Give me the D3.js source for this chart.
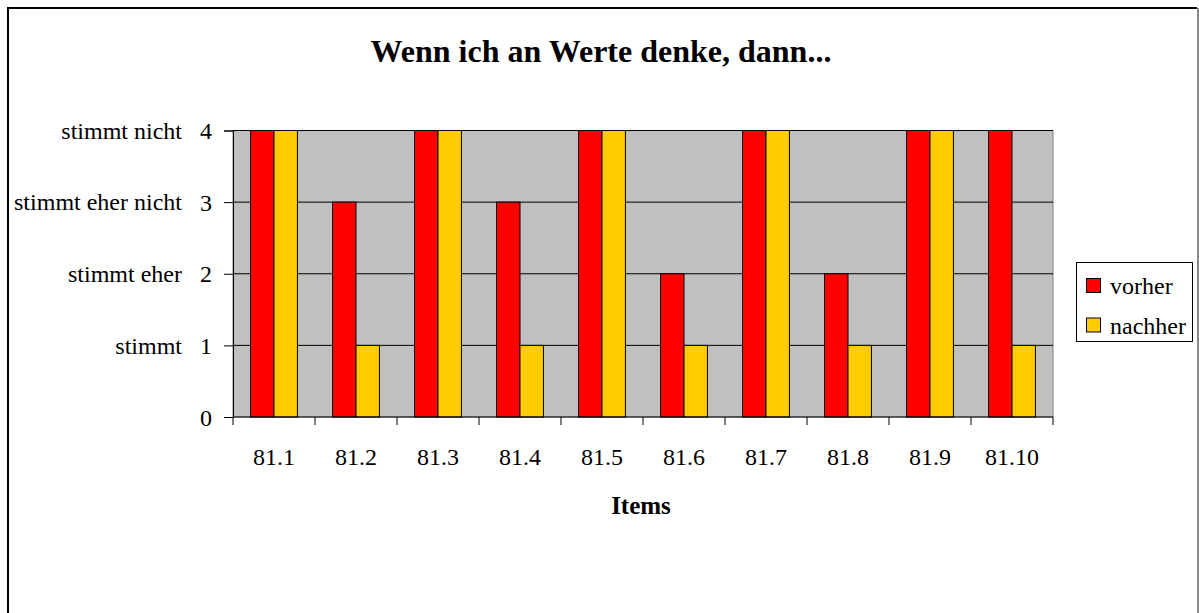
<!DOCTYPE html>
<html>
<head>
<meta charset="utf-8">
<script src="https://cdn.jsdelivr.net/npm/d3@7"></script>
<style>
  body { margin: 0; background: #fff; }
  text { font-family: "Liberation Serif", "Times New Roman", serif; fill: #000; }
</style>
</head>
<body>
<svg id="chart"></svg>
<script>
const categories = ["81.1", "81.2", "81.3", "81.4", "81.5", "81.6", "81.7", "81.8", "81.9", "81.10"];
const seriesNames = ["vorher", "nachher"];
const vorher = [4, 3, 4, 3, 4, 2, 4, 2, 4, 4];
const nachher = [4, 1, 4, 1, 4, 1, 4, 1, 4, 1];
const yTicks = [0, 1, 2, 3, 4];
const yTickText = ["", "stimmt", "stimmt eher", "stimmt eher nicht", "stimmt nicht"];
const colors = ["#ff0000", "#ffcc00"];

const width = 1199;
const height = 613;
const plot = { left: 233, right: 1053, top: 130.5, bottom: 417 };

const svg = d3.select("#chart").attr("width", width).attr("height", height);

// outer frame (left/top dark, right edge grey like the original)
svg.append("path")
  .attr("d", "M8,640V8H1197")
  .attr("fill", "none").attr("stroke", "#000").attr("stroke-width", 2);
svg.append("line")
  .attr("x1", 1198).attr("x2", 1198).attr("y1", 8).attr("y2", 640)
  .attr("stroke", "#888").attr("stroke-width", 2);

const x0 = d3.scaleBand().domain(categories).range([plot.left, plot.right]);
const x1 = d3.scaleBand().domain(seriesNames).range([0, x0.bandwidth()]).paddingOuter(0.75);
const y = d3.scaleLinear().domain([0, 4]).range([plot.bottom, plot.top]);

// plot area
svg.append("rect")
  .attr("x", plot.left).attr("y", plot.top)
  .attr("width", plot.right - plot.left).attr("height", plot.bottom - plot.top)
  .attr("fill", "#c0c0c0").attr("stroke", "#808080").attr("stroke-width", 1);

// gridlines
svg.append("g")
  .selectAll("line")
  .data(yTicks.slice(1))
  .join("line")
  .attr("x1", plot.left).attr("x2", plot.right)
  .attr("y1", d => y(d)).attr("y2", d => y(d))
  .attr("stroke", "#000").attr("stroke-width", 1);

// bars
const rows = categories.map((c, i) => ({ cat: c, vals: [vorher[i], nachher[i]] }));
svg.append("g")
  .selectAll("g")
  .data(rows)
  .join("g")
  .attr("transform", d => `translate(${x0(d.cat)},0)`)
  .selectAll("rect")
  .data(d => d.vals.map((v, j) => ({ key: seriesNames[j], v, j })))
  .join("rect")
  .attr("x", d => x1(d.key))
  .attr("y", d => y(d.v))
  .attr("width", x1.bandwidth())
  .attr("height", d => plot.bottom - y(d.v))
  .attr("fill", d => colors[d.j])
  .attr("stroke", "#000").attr("stroke-width", 1);

// y axis
const yAxis = svg.append("g")
  .attr("transform", `translate(${plot.left},0)`)
  .call(d3.axisLeft(y).tickValues(yTicks).tickSize(9).tickFormat(d3.format("d")));
yAxis.attr("font-family", null);
yAxis.select(".domain").attr("stroke", "#000");
yAxis.selectAll(".tick line").attr("stroke", "#000");
yAxis.selectAll(".tick text")
  .attr("x", -21).attr("dy", "0.34em")
  .style("font-size", "24px").style("font-family", "Liberation Serif");

svg.append("g")
  .selectAll("text")
  .data(yTicks)
  .join("text")
  .attr("x", 182)
  .attr("y", d => y(d))
  .attr("dy", "0.34em")
  .attr("text-anchor", "end")
  .style("font-size", "24px")
  .text(d => yTickText[d]);

// x axis
const xAxis = svg.append("g")
  .attr("transform", `translate(0,${plot.bottom})`)
  .call(d3.axisBottom(x0).tickSize(0).tickPadding(0));
xAxis.attr("font-family", null);
xAxis.select(".domain").remove();
xAxis.append("line")
  .attr("x1", plot.left).attr("x2", plot.right)
  .attr("stroke", "#000").attr("stroke-width", 1);
xAxis.selectAll(".tick text")
  .attr("y", 48).attr("dy", 0)
  .style("font-size", "24px").style("font-family", "Liberation Serif");
xAxis.selectAll(".sep")
  .data(d3.range(categories.length + 1))
  .join("line")
  .attr("class", "sep")
  .attr("x1", i => plot.left + i * x0.step())
  .attr("x2", i => plot.left + i * x0.step())
  .attr("y1", 0).attr("y2", 8)
  .attr("stroke", "#000");

// title
svg.append("text")
  .attr("x", 601).attr("y", 62)
  .attr("text-anchor", "middle")
  .style("font-size", "32px").style("font-weight", "bold")
  .text("Wenn ich an Werte denke, dann...");

svg.append("text")
  .attr("x", 641).attr("y", 514)
  .attr("text-anchor", "middle")
  .style("font-size", "25px").style("font-weight", "bold")
  .text("Items");

// legend
const legend = svg.append("g");
legend.append("rect")
  .attr("x", 1076.5).attr("y", 262.5)
  .attr("width", 116).attr("height", 79)
  .attr("fill", "#fff").attr("stroke", "#000");
const li = legend.selectAll("g")
  .data(seriesNames)
  .join("g")
  .attr("transform", (d, i) => `translate(0,${i * 39.5})`);
li.append("rect")
  .attr("x", 1086.5).attr("y", 278.5)
  .attr("width", 14).attr("height", 14)
  .attr("fill", (d, i) => colors[i]).attr("stroke", "#000");
li.append("text")
  .attr("x", 1110).attr("y", 294)
  .style("font-size", "24px")
  .text(d => d);
</script>
</body>
</html>
